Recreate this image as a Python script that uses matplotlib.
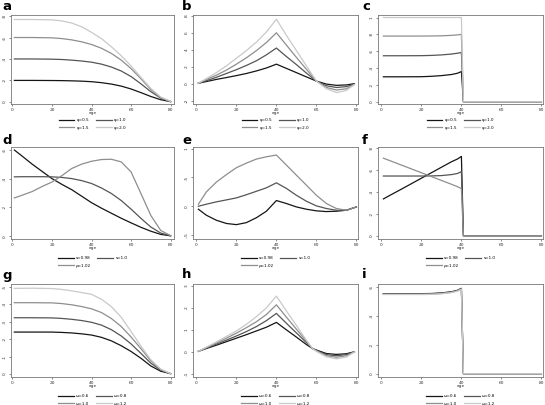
import matplotlib
matplotlib.use("Agg")
import matplotlib.pyplot as plt

W, H = 545, 405
GREYS = ["#151515", "#555555", "#8e8e8e", "#c9c9c9"]

# ---- data ----
psi_labels = ["φ=0.5", "φ=1.0", "φ=1.5", "φ=2.0"]
s_labels = ["s=0.98", "s=1.0", "ρ=1.02"]
om_labels = ["ω=0.6", "ω=0.8", "ω=1.0", "ω=1.2"]

a_age = [1, 10, 20, 25, 30, 35, 40, 45, 50, 55, 60, 65, 70, 75, 80]
a_vals = [
    [.200, .200, .199, .198, .196, .193, .188, .179, .166, .147, .120, .086, .050, .020, .002],
    [.400, .400, .398, .395, .389, .381, .370, .352, .325, .288, .236, .168, .095, .035, .003],
    [.600, .600, .597, .590, .578, .560, .535, .500, .452, .390, .310, .215, .115, .040, .003],
    [.768, .768, .765, .755, .735, .700, .648, .590, .515, .430, .335, .228, .125, .045, .004],
]

b_age = [1, 5, 10, 15, 20, 25, 30, 35, 40, 45, 50, 55, 60, 65, 70, 75, 79]
b_vals = [
    [.05, .25, .5, .72, .95, 1.2, 1.5, 1.85, 2.3, 1.8, 1.3, .8, .3, -.05, -.2, -.15, 0.0],
    [.05, .35, .75, 1.2, 1.65, 2.15, 2.7, 3.4, 4.2, 3.2, 2.25, 1.25, .3, -.25, -.45, -.35, -.05],
    [.05, .5, 1.0, 1.6, 2.3, 3.05, 3.9, 4.85, 6.0, 4.55, 3.1, 1.7, .3, -.45, -.75, -.6, -.1],
    [.05, .6, 1.3, 2.1, 3.0, 3.9, 4.9, 6.1, 7.6, 5.7, 3.9, 2.1, .3, -.6, -1.05, -.8, -.1],
]

c_age = [1, 10, 20, 25, 30, 35, 38, 40, 41, 80]
c_vals = [
    [.296, .296, .297, .302, .310, .323, .338, .358, 0, 0],
    [.546, .546, .547, .550, .556, .566, .576, .585, 0, 0],
    [.780, .780, .780, .781, .783, .788, .794, .800, 0, 0],
    [1.0, 1.0, 1.0, 1.0, 1.0, 1.0, 1.0, 1.0, 0, 0],
]

d_age = [1, 5, 10, 15, 20, 25, 30, 35, 40, 45, 50, 55, 60, 65, 70, 75, 80]
d_vals = [
    [.598, .555, .50, .45, .40, .36, .323, .278, .233, .195, .16, .125, .093, .062, .035, .013, .003],
    [.412, .413, .413, .413, .412, .408, .400, .386, .366, .335, .297, .248, .188, .124, .064, .022, .004],
    [.266, .285, .31, .345, .376, .42, .47, .50, .52, .532, .534, .516, .446, .296, .144, .04, .004],
]

e_vals = [
    [-.052, -.157, -.244, -.30, -.32, -.285, -.20, -.087, .099, .047, -.012, -.052, -.08, -.093, -.087, -.07, -.012],
    [0, .035, .076, .11, .145, .20, .26, .32, .407, .31, .19, .087, .006, -.04, -.07, -.07, -.012],
    [.035, .25, .42, .55, .67, .75, .82, .86, .89, .715, .54, .366, .19, .047, -.04, -.07, -.012],
]

f_age = [1, 5, 10, 15, 20, 25, 30, 35, 38, 40, 41, 80]
f_vals = [
    [.336, .376, .425, .475, .525, .575, .625, .675, .70, .724, 0, 0],
    [.545, .545, .545, .545, .545, .546, .549, .558, .568, .585, 0, 0],
    [.708, .68, .645, .61, .575, .54, .505, .47, .448, .43, 0, 0],
]

g_age = [1, 10, 20, 25, 30, 35, 40, 45, 50, 55, 60, 65, 70, 75, 80]
g_vals = [
    [.240, .240, .240, .238, .235, .230, .223, .210, .190, .162, .129, .090, .046, .016, .002],
    [.322, .322, .321, .318, .313, .306, .296, .280, .254, .218, .172, .118, .062, .022, .002],
    [.408, .408, .407, .403, .396, .386, .373, .352, .318, .272, .212, .145, .075, .026, .002],
    [.490, .491, .489, .484, .476, .466, .456, .428, .386, .325, .243, .160, .082, .028, .002],
]

h_age = [1, 5, 10, 15, 20, 25, 30, 35, 40, 45, 50, 55, 58, 60, 65, 70, 75, 79]
h_vals = [
    [.02, .15, .3, .46, .62, .78, .95, 1.12, 1.34, 1.0, .67, .33, .15, .08, -.08, -.12, -.09, 0.0],
    [.02, .17, .35, .53, .72, .92, 1.15, 1.42, 1.75, 1.3, .86, .42, .15, .06, -.13, -.18, -.13, 0.0],
    [.02, .19, .4, .62, .85, 1.1, 1.37, 1.7, 2.14, 1.58, 1.03, .48, .15, .04, -.18, -.25, -.18, -.01],
    [.02, .21, .45, .7, .95, 1.25, 1.6, 2.0, 2.54, 1.86, 1.2, .53, .15, .02, -.23, -.32, -.24, -.01],
]

i_age = [1, 10, 20, 25, 30, 35, 38, 40, 41, 80]
i_vals = [
    [.556, .556, .556, .557, .561, .569, .579, .593, 0, 0],
    [.554, .554, .554, .555, .559, .567, .577, .591, 0, 0],
    [.552, .552, .552, .553, .557, .565, .575, .589, 0, 0],
    [.550, .550, .550, .551, .555, .563, .573, .587, 0, 0],
]

# ---- layout (pixels) ----
cols = [(11, 174), (193, 358), (378, 543)]
rows = [(15, 104), (147, 239), (284, 377)]
leg_top = [116, 254, 392]
letter_base = [9.5, 143.5, 278.5]

panels = [
    ("a", a_age, a_vals, psi_labels, [0, .2, .4, .6, .8], ["0", ".2", ".4", ".6", ".8"], (-.02, .81)),
    ("b", b_age, b_vals, psi_labels, [-2, 0, 2, 4, 6, 8], ["-2", "0", "2", "4", "6", "8"], (-2.4, 8.1)),
    ("c", c_age, c_vals, psi_labels, [0, .2, .4, .6, .8, 1], ["0", ".2", ".4", ".6", ".8", "1"], (-.027, 1.03)),
    ("d", d_age, d_vals, s_labels, [0, .2, .4, .6], ["0", ".2", ".4", ".6"], (-.019, .619)),
    ("e", d_age, e_vals, s_labels, [-.5, 0, .5, 1], ["-.5", "0", ".5", "1"], (-.57, 1.03)),
    ("f", f_age, f_vals, s_labels, [0, .2, .4, .6, .8], ["0", ".2", ".4", ".6", ".8"], (-.03, .81)),
    ("g", g_age, g_vals, om_labels, [0, .1, .2, .3, .4, .5], ["0", ".1", ".2", ".3", ".4", ".5"], (-.017, .515)),
    ("h", h_age, h_vals, om_labels, [-1, 0, 1, 2, 3], ["-1", "0", "1", "2", "3"], (-1.15, 3.09)),
    ("i", i_age, i_vals, om_labels, [0, .2, .4, .6], ["0", ".2", ".4", ".6"], (-.023, .623)),
]

fig = plt.figure(figsize=(W / 100, H / 100), dpi=100)

for k, (letter, age, vals, labels, yt, ytl, ylim) in enumerate(panels):
    r, c = divmod(k, 3)
    l, rt = cols[c]
    t, b = rows[r]
    ax = fig.add_axes([l / W, 1 - b / H, (rt - l) / W, (b - t) / H])
    lines = []
    for v, lab, col in zip(vals, labels, GREYS):
        lines += ax.plot(age, v, color=col, lw=0.9, label=lab)
    ax.set_xlim((-0.7, 81.7) if c == 0 else (-1.7, 80.8))
    ax.set_ylim(*ylim)
    ax.set_xticks([0, 20, 40, 60, 80])
    ax.set_yticks(yt)
    ax.set_yticklabels(ytl, rotation=90, va="center")
    ax.tick_params(labelsize=3.2, length=1.5, width=0.4, pad=1.5, colors="#333333")
    for sp in ax.spines.values():
        sp.set_color("#777777")
        sp.set_linewidth(0.6)
    ax.set_xlabel("age", fontsize=3.2, color="#333333")
    ax.xaxis.set_label_coords(0.5, -0.075)
    # legend fills row by row in the reference
    order = [0, 2, 1, 3] if len(lines) == 4 else [0, 2, 1]
    cx = (l + rt) / 2 / W
    ax.legend([lines[j] for j in order], [labels[j] for j in order],
              loc="upper center", bbox_to_anchor=(cx, 1 - leg_top[r] / H),
              bbox_transform=fig.transFigure, ncol=2, frameon=False,
              fontsize=3.0, handlelength=3.8, handletextpad=0.5,
              columnspacing=1.6, labelspacing=0.9, borderpad=0)
    fig.text((c * 180 + 2) / W, 1 - letter_base[r] / H, letter,
             fontsize=9.5, fontweight="bold", va="baseline", ha="left")

fig.savefig("out.png", dpi=100)
